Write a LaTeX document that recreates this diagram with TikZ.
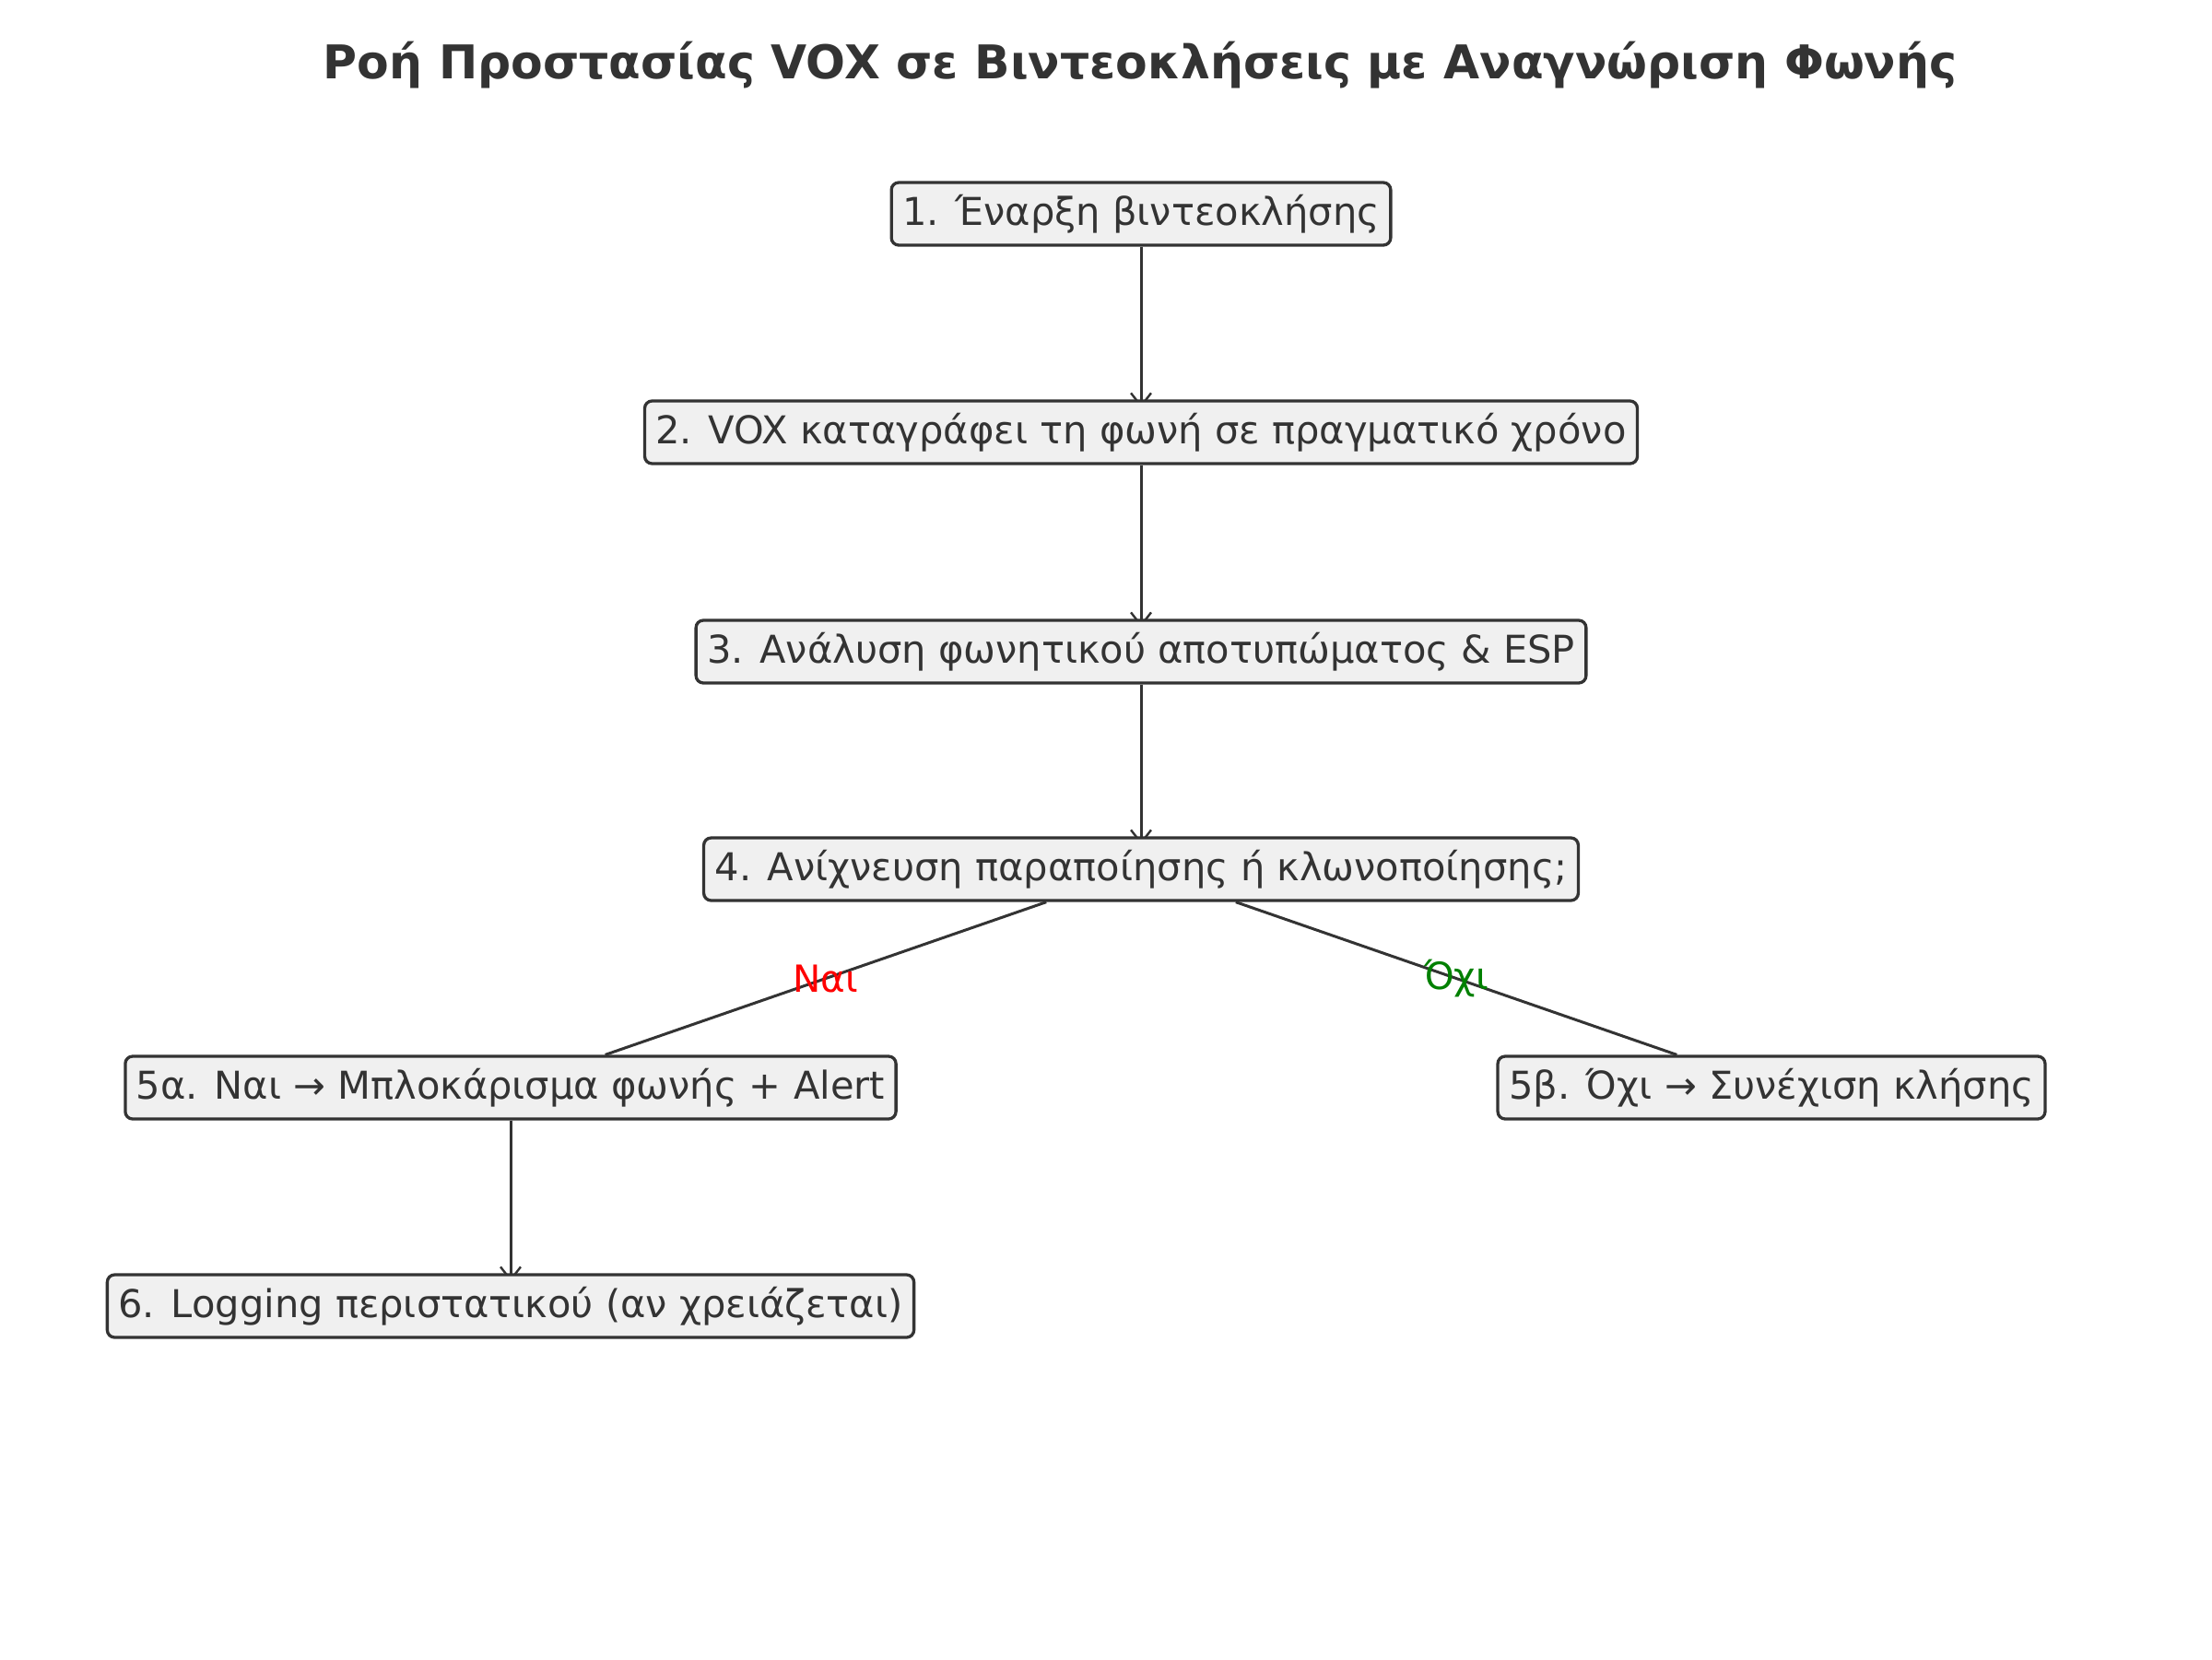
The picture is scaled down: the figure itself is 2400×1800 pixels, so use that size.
\documentclass[tikz,border=0pt]{standalone}
\usepackage{fontspec}
\setmainfont{DejaVu Sans}
\usetikzlibrary{arrows.meta,calc}
\definecolor{ink}{HTML}{333333}
\definecolor{boxfill}{HTML}{F0F0F0}
\definecolor{yesred}{HTML}{FF0000}
\definecolor{nogreen}{HTML}{008000}
\pgfdeclarelayer{bg}
\pgfsetlayers{bg,main}
\begin{document}
\begin{tikzpicture}[x=1pt,y=-1pt,
  stepbox/.style={draw=ink, fill=boxfill, line width=3.3pt, rounded corners=8pt,
    text=ink, font=\fontsize{41.6}{50}\selectfont, inner xsep=12pt, minimum height=68pt, inner ysep=0pt},
  flow/.style={draw=ink, line width=3pt, shorten >=-9pt, -{Straight Barb[length=14pt,width=22pt,line width=2.4pt]}},
  branch/.style={draw=ink, line width=3pt},
  lab/.style={font=\fontsize{40.5}{48}\selectfont}
]
\useasboundingbox (0,0) rectangle (2400,1800);
\node[font=\bfseries\fontsize{50.5}{60}\selectfont, text=ink] (title) at (1237,71) {Ροή Προστασίας VOX σε Βιντεοκλήσεις με Αναγνώριση Φωνής};
\node[stepbox] (n1) at (1238,232) {1. Έναρξη βιντεοκλήσης};
\node[stepbox] (n2) at (1238,469) {2. VOX καταγράφει τη φωνή σε πραγματικό χρόνο};
\node[stepbox] (n3) at (1238,707) {3. Ανάλυση φωνητικού αποτυπώματος \& ESP};
\node[stepbox] (n4) at (1238,943) {4. Ανίχνευση παραποίησης ή κλωνοποίησης;};
\node[stepbox] (n5a) at (554,1180) {5α. Ναι → Μπλοκάρισμα φωνής + Alert};
\node[stepbox] (n5b) at (1922,1180) {5β. Όχι → Συνέχιση κλήσης};
\node[stepbox] (n6) at (554,1417) {6. Logging περιστατικού (αν χρειάζεται)};
\begin{pgfonlayer}{bg}
\draw[flow] (n1) -- (n2);
\draw[flow] (n2) -- (n3);
\draw[flow] (n3) -- (n4);
\draw[branch] (n4) -- (n5a);
\draw[branch] (n4) -- (n5b);
\draw[flow] (n5a) -- (n6);
\end{pgfonlayer}
\node[lab, text=yesred] (ly) at ($(n4.center)!0.5!(n5a.center)$) {Ναι};
\node[lab, text=nogreen] (ln) at ($(n4.center)!0.5!(n5b.center)$) {Όχι};
\end{tikzpicture}
\end{document}
